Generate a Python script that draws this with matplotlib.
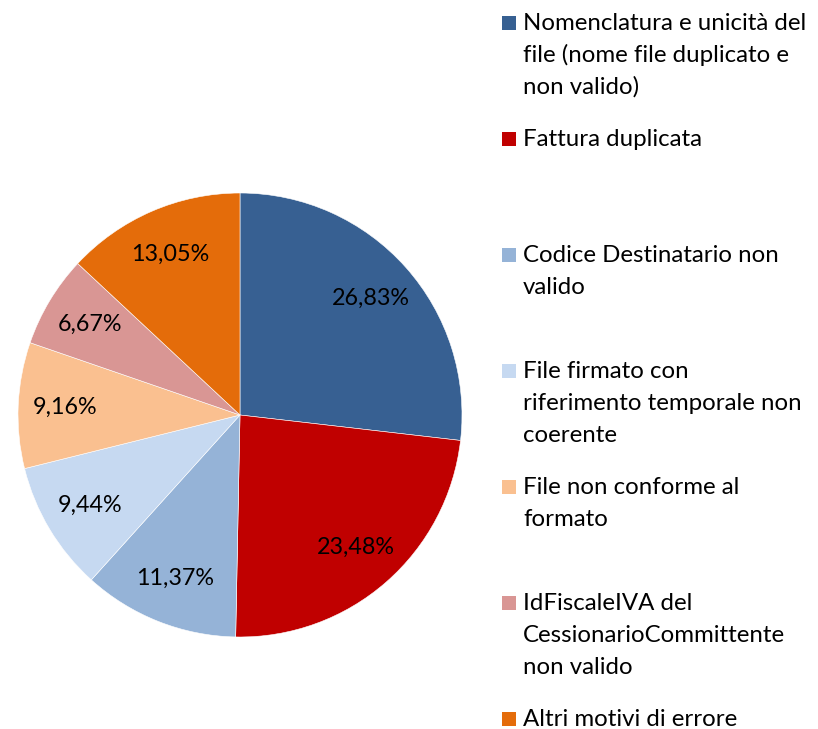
import matplotlib.pyplot as plt
from matplotlib.patches import Rectangle

plt.rcParams['font.family'] = ['Lato', 'DejaVu Sans']

# dati
categorie = [
    "Nomenclatura e unicità del\nfile (nome file duplicato e\nnon valido)",
    "Fattura duplicata",
    "Codice Destinatario non\nvalido",
    "File firmato con\nriferimento temporale non\ncoerente",
    "File non conforme al\nformato",
    "IdFiscaleIVA del\nCessionarioCommittente\nnon valido",
    "Altri motivi di errore",
]
percentuali = [26.83, 23.48, 11.37, 9.44, 9.16, 6.67, 13.05]
colori = ["#376092", "#C00000", "#95B3D7", "#C6D9F1", "#FAC090", "#D99694", "#E46C0A"]

W, H = 818, 729
fig = plt.figure(figsize=(W / 100, H / 100), dpi=100)

# torta: centro (240, 415) px, raggio 222 px
cx, cy, r = 240, 415, 222
ax = fig.add_axes([(cx - r) / W, (H - cy - r) / H, 2 * r / W, 2 * r / H])
wedges, texts, autotexts = ax.pie(
    percentuali,
    colors=colori,
    startangle=90,
    counterclock=False,
    radius=1,
    autopct=lambda p: f"{p:.2f}%".replace(".", ","),
    pctdistance=0.79,
    wedgeprops=dict(edgecolor="white", linewidth=0.4),
    textprops=dict(fontsize=16.8, color="black"),
)
ax.set_xlim(-1, 1)
ax.set_ylim(-1, 1)
ax.set_aspect("equal")
ax.axis("off")

# legenda manuale (quadratino allineato alla prima riga)
fs = 17.3
base0, step, line_h = 30, 116, 32
for i, (lab, col) in enumerate(zip(categorie, colori)):
    yb = base0 + i * step
    fig.patches.append(Rectangle((502 / W, (H - yb) / H), 14 / W, 14 / H,
                                 transform=fig.transFigure, facecolor=col,
                                 edgecolor="none"))
    for j, riga in enumerate(lab.split("\n")):
        fig.text(523 / W, (H - yb - j * line_h) / H, riga, fontsize=fs,
                 va="baseline", ha="left", color="black")

plt.savefig("out.png", dpi=100)
plt.close()
